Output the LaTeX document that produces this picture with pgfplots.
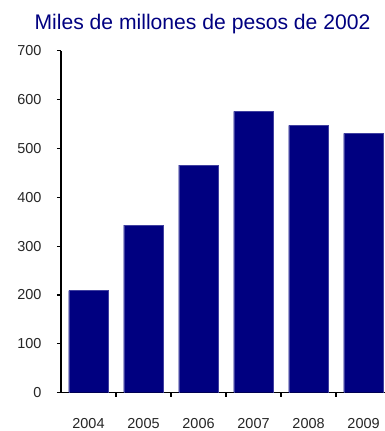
\documentclass[border=0pt]{standalone}
\usepackage{fontspec}
\setmainfont{Liberation Sans}
\usepackage{pgfplots}
\pgfplotsset{compat=1.18}
\definecolor{navyblue}{RGB}{0,0,128}
\begin{document}
\begin{tikzpicture}[x=1bp,y=1bp]
\useasboundingbox (0,0) rectangle (385,431);
\begin{axis}[
  at={(61bp,38.3bp)}, anchor=south west,
  scale only axis, width=324bp, height=342bp,
  xmin=-0.5, xmax=5.39, ymin=0, ymax=700,
  axis x line*=bottom, axis y line*=left,
  axis line style={line width=1.1bp, black},
  ytick={0,100,...,700},
  xtick={0,1,2,3,4,5},
  xticklabels={2004,2005,2006,2007,2008,2009},
  minor xtick={0.5,1.5,2.5,3.5,4.5},
  major x tick style={draw=none},
  tick align=outside, major tick length=4bp, minor tick length=4bp,
  tick style={line width=1.1bp, black},
  minor tick style={line width=1.1bp, black},
  /pgf/number format/assume math mode=true,
  /pgf/number format/1000 sep={},
  ticklabel style={font=\fontsize{14.5}{15}\selectfont, text=black!85},
  xticklabel style={yshift=-18bp},
  yticklabel style={xshift=-12bp},
  ybar, bar width=0.72,
]
\addplot[fill=navyblue, draw=navyblue!75!white, line width=0.3bp] coordinates {
  (0,209) (1,343) (2,466) (3,576) (4,547) (5,531)
};
\end{axis}
\node[text=navyblue, font=\fontsize{21.2}{24}\selectfont, anchor=base] at (202.5,401) {Miles de millones de pesos de 2002};
\end{tikzpicture}
\end{document}
